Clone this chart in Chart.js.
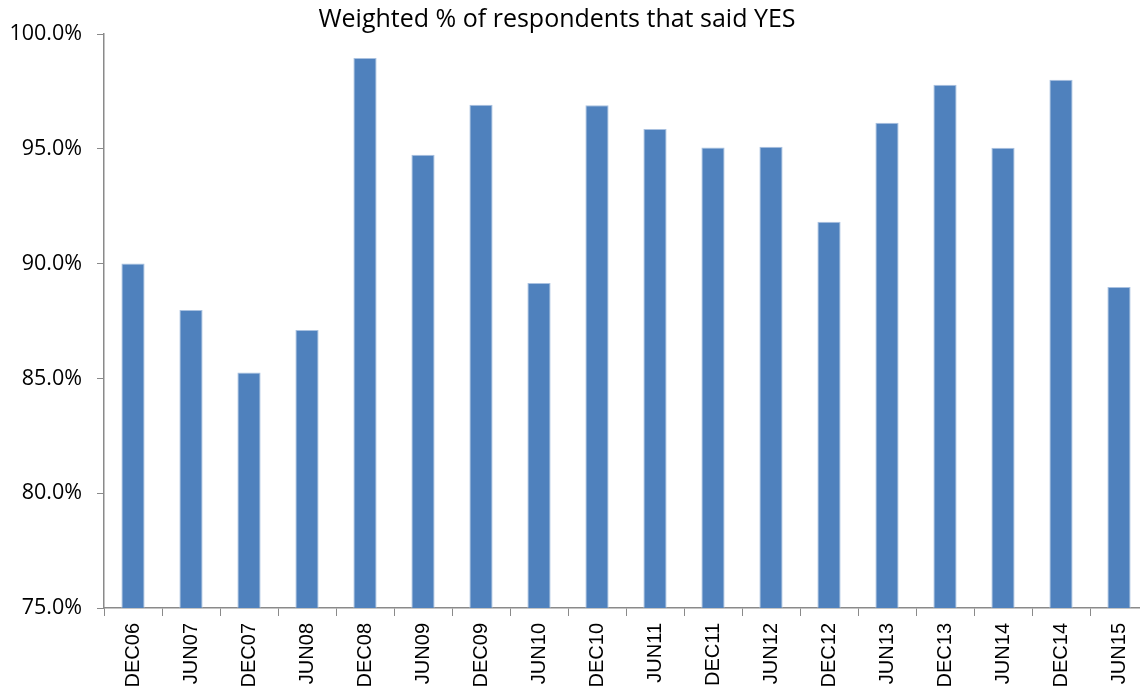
<!DOCTYPE html>
<html>
<head>
<meta charset="utf-8">
<script src="https://cdn.jsdelivr.net/npm/chart.js@4/dist/chart.umd.min.js"></script>
<style>
  html, body { margin: 0; padding: 0; background: #fff; overflow: hidden; }
  #wrap { width: 1150px; height: 700px; }
</style>
</head>
<body>
<div id="wrap"><canvas id="yesChart" width="1150" height="700"></canvas></div>
<script>
const waves = ["DEC06", "JUN07", "DEC07", "JUN08", "DEC08", "JUN09", "DEC09", "JUN10", "DEC10",
               "JUN11", "DEC11", "JUN12", "DEC12", "JUN13", "DEC13", "JUN14", "DEC14", "JUN15"];
const yesPct = [90.0, 87.98, 85.26, 87.11, 98.95, 94.74, 96.92, 89.16, 96.90,
                95.86, 95.06, 95.09, 91.82, 96.14, 97.79, 95.05, 98.01, 88.98];
const yTicks = [75, 80, 85, 90, 95, 100];

const titleText = "Weighted % of respondents that said YES";
const axisGrey = "#8a8a8a";

// title sits a little left of the canvas centre, so draw it ourselves
const titlePlugin = {
    id: "titleAt",
    afterDraw(chart) {
        const ctx = chart.ctx;
        ctx.save();
        ctx.font = "25px 'Open Sans'";
        ctx.fillStyle = "#000";
        ctx.textAlign = "center";
        ctx.textBaseline = "alphabetic";
        ctx.fillText(titleText, 557, 27);
        ctx.restore();
    }
};

new Chart(document.getElementById("yesChart"), {
    type: "bar",
    data: {
        labels: waves,
        datasets: [{
            label: "YES",
            data: yesPct,
            backgroundColor: "#4f81bd",
            borderColor: "#a9c1e0",
            borderWidth: 1,
            borderSkipped: "bottom",
            barPercentage: 0.4,
            categoryPercentage: 1.0
        }]
    },
    options: {
        responsive: false,
        animation: false,
        layout: { padding: { top: 34, left: 0, right: 0, bottom: 0 } },
        plugins: {
            legend: { display: false },
            title: { display: false },
            tooltip: { enabled: false }
        },
        scales: {
            x: {
                grid: { offset: true, drawOnChartArea: false, color: axisGrey, tickLength: 8 },
                border: { color: axisGrey, width: 1.5 },
                ticks: {
                    minRotation: 90, maxRotation: 90, autoSkip: false, padding: 7,
                    color: "#000",
                    font: { family: "'Liberation Sans', Arial", size: 20 }
                },
                afterFit: scale => { scale.height = 92; }
            },
            y: {
                min: 75, max: 100,
                afterBuildTicks: scale => { scale.ticks = yTicks.map(v => ({ value: v })); },
                grid: { drawOnChartArea: false, color: axisGrey, tickLength: 7 },
                border: { color: axisGrey, width: 1.5 },
                ticks: {
                    padding: 15, color: "#000",
                    font: { family: "'Open Sans'", size: 21.5 },
                    callback: v => v.toFixed(1) + "%"
                },
                afterFit: scale => { scale.width = 104; }
            }
        }
    },
    plugins: [titlePlugin]
});
</script>
</body>
</html>
